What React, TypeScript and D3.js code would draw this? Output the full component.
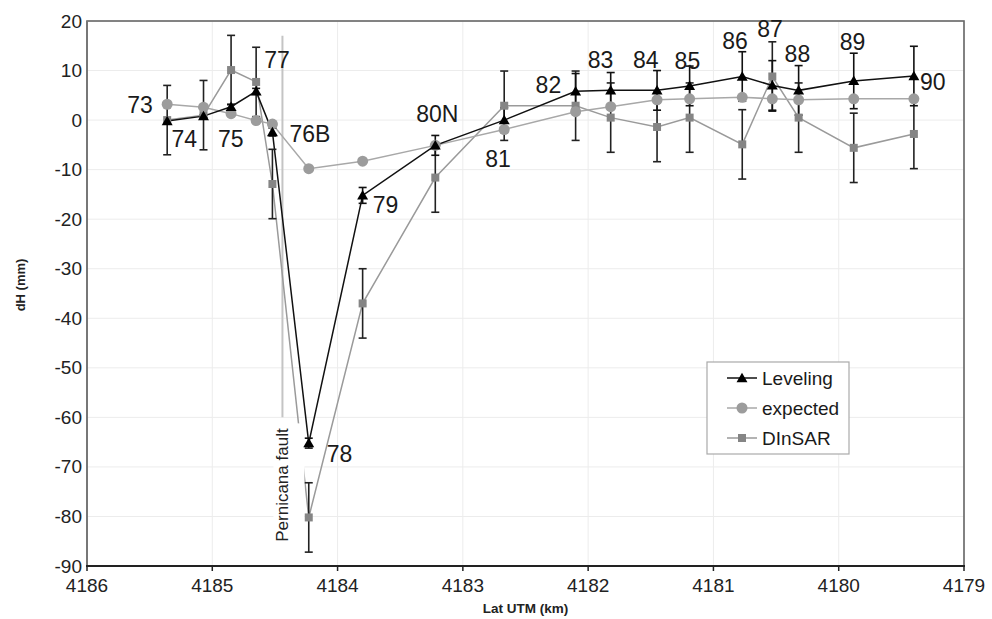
import React, { useEffect } from 'react';
import * as d3 from 'd3';

// leveling benchmarks, north to south
const stations = ['73', '74', '75', '77', '76B', '78', '79', '80N', '81', '82', '83', '84', '85', '86', '87', '88', '89', '90'];
const latUTM = [4185.36, 4185.07, 4184.85, 4184.65, 4184.52, 4184.23, 4183.8, 4183.22, 4182.67, 4182.1, 4181.82, 4181.45, 4181.19, 4180.77, 4180.53, 4180.32, 4179.88, 4179.4];
const leveling = [-0.2, 0.8, 2.7, 5.8, -2.4, -65.2, -15.2, -5.1, 0, 5.8, 6, 6, 6.9, 8.8, 7, 6, 7.9, 8.9];
const levelingErr = [0, 0.3, 0.5, 0.6, 0.8, 1, 1.6, 2, 2.5, 3.6, 3.6, 4, 4, 5, 5, 5, 5.6, 6];
const expected = [3.2, 2.6, 1.3, -0.1, -0.8, -9.8, -8.3, -5.1, -1.9, 1.7, 2.7, 4.1, 4.3, 4.6, 4.3, 4.1, 4.3, 4.3];
const dinsar = [0, 1, 10.1, 7.7, -12.9, -80.2, -37, -11.6, 2.9, 2.9, 0.5, -1.4, 0.5, -4.9, 8.8, 0.5, -5.6, -2.8];
const dinsarErr = [7, 7, 7, 7, 7, 7, 7, 7, 7, 7, 7, 7, 7, 7, 7, 7, 7, 7];

const yTicks = [-90, -80, -70, -60, -50, -40, -30, -20, -10, 0, 10, 20];
const xTicks = [4186, 4185, 4184, 4183, 4182, 4181, 4180, 4179];

const faultLat = 4184.44;
const faultRange = [-60, 17];

// label placement in px relative to the leveling point
const labelDx = [-40, -32, -13, 8, 17, 18, 10, -19, -19, -40, -23, -24, -15, -20, -15, -14, -14, 6];
const labelDy = [-8, 31, 40, -23, 10, 19, 18, -23, 47, 2, -22, -22, -17, -27, -48, -28, -31, 14];

const W = 992;
const H = 619;
const font = '"Liberation Sans", Arial, Helvetica, sans-serif';

const x = d3.scaleLinear().domain([4186, 4179]).range([87, 964]);
const y = d3.scaleLinear().domain([-90, 20]).range([566, 21]);

const idx = d3.range(stations.length);
const lineOf = (vals) => d3.line().x(i => x(latUTM[i])).y(i => y(vals[i]))(idx);

const triangle = d3.symbol(d3.symbolTriangle, 52)();
const square = d3.symbol(d3.symbolSquare, 64)();

function ErrorBars({ vals, errs, color }) {
  return (
    <g stroke={color} strokeWidth={1.6} fill="none">
      {idx.filter(i => errs[i] > 0.2).map(i => {
        const cx = x(latUTM[i]);
        const y0 = y(vals[i] + errs[i]);
        const y1 = y(vals[i] - errs[i]);
        return (
          <g key={i}>
            <line x1={cx} x2={cx} y1={y0} y2={y1} />
            <line x1={cx - 4} x2={cx + 4} y1={y0} y2={y0} />
            <line x1={cx - 4} x2={cx + 4} y1={y1} y2={y1} />
          </g>
        );
      })}
    </g>
  );
}

export default function App() {
  useEffect(() => {
    document.body.style.margin = '0';
  }, []);

  const fx = x(faultLat);

  return (
    <svg width={W} height={H} style={{ display: 'block', position: 'fixed', left: 0, top: 0, background: '#fff' }}
      fontFamily={font}>
      <rect width={W} height={H} fill="#fff" />
      {/* grid */}
      <g stroke="#ececec" strokeWidth={1}>
        {yTicks.map(t => <line key={'h' + t} x1={x(4186)} x2={x(4179)} y1={y(t)} y2={y(t)} />)}
        {xTicks.map(t => <line key={'v' + t} x1={x(t)} x2={x(t)} y1={y(20)} y2={y(-90)} />)}
      </g>
      {/* frame */}
      <rect x={x(4186)} y={y(20)} width={x(4179) - x(4186)} height={y(-90) - y(20)} fill="none" stroke="#666" strokeWidth={1.6} />
      <line x1={x(4186)} x2={x(4186)} y1={y(20)} y2={y(-90)} stroke="#777" strokeWidth={2} />
      <line x1={x(4186) - 1} x2={x(4179) + 1} y1={y(-90)} y2={y(-90)} stroke="#222" strokeWidth={2} />

      {/* axes */}
      <g fontSize={19} fill="#222">
        {yTicks.map(t => (
          <text key={t} x={x(4186) - 5} y={y(t)} textAnchor="end" dominantBaseline="central">{t}</text>
        ))}
        {xTicks.map(t => (
          <g key={t}>
            <line x1={x(t)} x2={x(t)} y1={y(-90)} y2={y(-90) + 5} stroke="#222" strokeWidth={1.5} />
            <text x={x(t)} y={592} textAnchor="middle">{t}</text>
          </g>
        ))}
      </g>
      <text x={(x(4186) + x(4179)) / 2} y={613} textAnchor="middle" fontSize={13.5} fontWeight="bold" fill="#222">Lat UTM (km)</text>
      <text transform={`translate(25,${285}) rotate(-90)`} textAnchor="middle" fontSize={13} fontWeight="bold" fill="#222">dH (mm)</text>

      {/* fault */}
      <line x1={fx} x2={fx} y1={y(faultRange[1])} y2={y(faultRange[0])} stroke="#c4c4c4" strokeWidth={2} />

      {/* series lines */}
      <path d={lineOf(dinsar)} fill="none" stroke="#9a9a9a" strokeWidth={1.5} />
      <rect x={fx - 9} y={y(faultRange[0]) + 6} width={31} height={126} fill="#fff" />
      <text transform={`translate(${fx + 6},${y(faultRange[0]) + 11}) rotate(-90)`} textAnchor="end" fontSize={17} fill="#222">Pernicana fault</text>
      <path d={lineOf(expected)} fill="none" stroke="#a8a8a8" strokeWidth={1.5} />
      <path d={lineOf(leveling)} fill="none" stroke="#111" strokeWidth={1.5} />

      <ErrorBars vals={dinsar} errs={dinsarErr} color="#222" />
      <ErrorBars vals={leveling} errs={levelingErr} color="#111" />

      {/* markers */}
      {idx.map(i => (
        <path key={'s' + i} d={square} transform={`translate(${x(latUTM[i])},${y(dinsar[i])})`} fill="#858585" />
      ))}
      {idx.map(i => (
        <circle key={'c' + i} cx={x(latUTM[i])} cy={y(expected[i])} r={5.5} fill="#9c9c9c" />
      ))}
      {idx.map(i => (
        <path key={'t' + i} d={triangle} transform={`translate(${x(latUTM[i])},${y(leveling[i]) + 1})`} fill="#000" />
      ))}

      {/* station labels */}
      <g fontSize={23} fill="#1a1a1a">
        {idx.map(i => (
          <text key={'l' + i} x={x(latUTM[i]) + labelDx[i]} y={y(leveling[i]) + labelDy[i]}>{stations[i]}</text>
        ))}
      </g>

      {/* legend */}
      <g transform="translate(707,362)">
        <rect width={142} height={92} fill="#fff" stroke="#aaa" strokeWidth={1.2} />
        <g transform="translate(0,16)">
          <line x1={20} x2={50} stroke="#111" strokeWidth={1.5} />
          <path d={triangle} transform="translate(35,1)" fill="#000" />
          <text x={55} dominantBaseline="central" fontSize={19} fill="#1a1a1a">Leveling</text>
        </g>
        <g transform="translate(0,46)">
          <line x1={20} x2={50} stroke="#a8a8a8" strokeWidth={1.5} />
          <circle cx={35} r={5.5} fill="#9c9c9c" />
          <text x={55} dominantBaseline="central" fontSize={19} fill="#1a1a1a">expected</text>
        </g>
        <g transform="translate(0,76)">
          <line x1={20} x2={50} stroke="#9a9a9a" strokeWidth={1.5} />
          <path d={square} transform="translate(35,0)" fill="#858585" />
          <text x={55} dominantBaseline="central" fontSize={19} fill="#1a1a1a">DInSAR</text>
        </g>
      </g>
    </svg>
  );
}
